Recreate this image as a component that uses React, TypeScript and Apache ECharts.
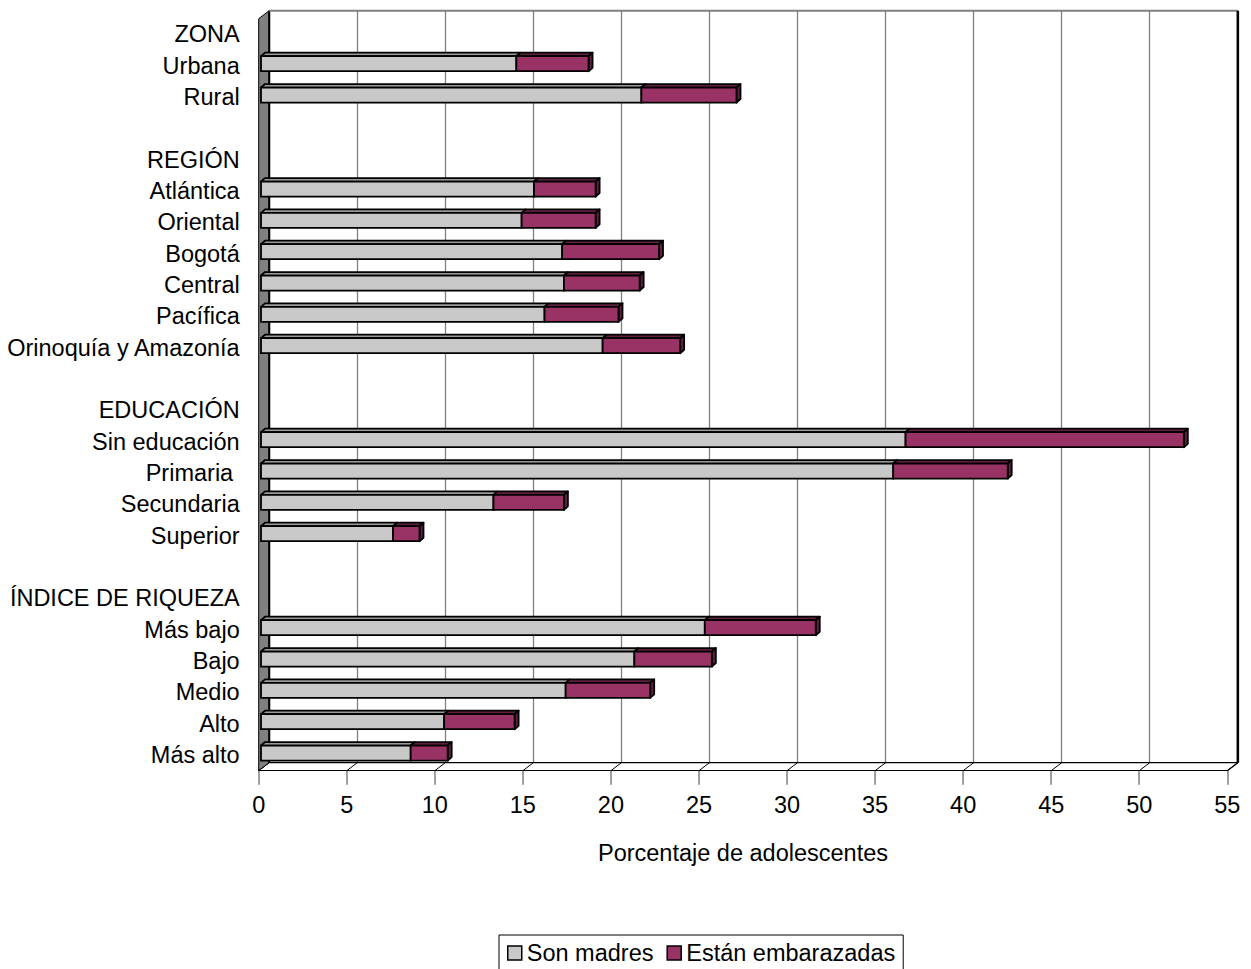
import React, { useEffect, useRef } from "react";
import * as echarts from "echarts";

// ---------- data ----------
const categories = [
  "ZONA", "Urbana", "Rural", "",
  "REGIÓN", "Atlántica", "Oriental", "Bogotá", "Central", "Pacífica", "Orinoquía y Amazonía", "",
  "EDUCACIÓN", "Sin educación", "Primaria ", "Secundaria", "Superior", "",
  "ÍNDICE DE RIQUEZA", "Más bajo", "Bajo", "Medio", "Alto", "Más alto",
];
const sonMadres: (number | null)[] = [
  null, 14.5, 21.6, null,
  null, 15.5, 14.8, 17.1, 17.2, 16.1, 19.4, null,
  null, 36.6, 35.9, 13.2, 7.5, null,
  null, 25.2, 21.2, 17.3, 10.4, 8.5,
];
const estanEmbarazadas: (number | null)[] = [
  null, 4.1, 5.4, null,
  null, 3.5, 4.2, 5.5, 4.3, 4.2, 4.4, null,
  null, 15.8, 6.5, 4.0, 1.5, null,
  null, 6.3, 4.4, 4.8, 4.0, 2.1,
];
const seriesNames = ["Son madres", "Están embarazadas"];
const axisTitle = "Porcentaje de adolescentes";
const xMin = 0;
const xMax = 55;
const xInterval = 5;

// ---------- style ----------
const FONT = "'Liberation Sans', Arial, sans-serif";
const FS = 23.5;
const GREY = "#C8C8C8";
const GREY_TOP = "#9A9A9A";
const PLUM = "#993366";
const PLUM_DARK = "#5E1F40";
const LW = 1.8;

const FRONT = { left: 258.7, top: 18.7, width: 968.6, height: 752 };
const DX = 10.5;
const DY = -8;
const BAR_SHIFT = 2.3;
const BAR_TOP = -9.5;
const BAR_H = 15;
const BDX = 4;
const BDY = -3.5;

export default function App() {
  const ref = useRef<HTMLDivElement>(null);

  useEffect(() => {
    const chart = echarts.init(ref.current!, null, { renderer: "svg" });

    const rows = categories
      .map((_, i) => [i, sonMadres[i], estanEmbarazadas[i]])
      .filter((r) => r[1] != null);

    const renderSon = (_params: any, api: any) => {
      const row = api.value(0);
      const s = api.value(1);
      const p0 = api.coord([0, row]);
      const p1 = api.coord([s, row]);
      const x0 = p0[0] + BAR_SHIFT;
      const x1 = p1[0] + BAR_SHIFT;
      const yt = p0[1] + BAR_TOP;
      return {
        type: "group",
        children: [
          {
            type: "polygon",
            shape: { points: [[x0, yt], [x1, yt], [x1 + BDX, yt + BDY], [x0 + BDX, yt + BDY]] },
            style: { fill: GREY_TOP, stroke: "#000", lineWidth: LW, lineJoin: "round" },
          },
          {
            type: "rect",
            shape: { x: x0, y: yt, width: x1 - x0, height: BAR_H },
            style: { fill: GREY, stroke: "#000", lineWidth: LW },
          },
        ],
      };
    };

    const renderEmb = (_params: any, api: any) => {
      const row = api.value(0);
      const s = api.value(1);
      const e = api.value(2);
      const p0 = api.coord([0, row]);
      const p1 = api.coord([s, row]);
      const p2 = api.coord([s + e, row]);
      const x1 = p1[0] + BAR_SHIFT;
      const x2 = p2[0] + BAR_SHIFT;
      const yt = p0[1] + BAR_TOP;
      const yb = yt + BAR_H;
      return {
        type: "group",
        children: [
          {
            type: "polygon",
            shape: { points: [[x1, yt], [x2, yt], [x2 + BDX, yt + BDY], [x1 + BDX, yt + BDY]] },
            style: { fill: PLUM_DARK, stroke: "#000", lineWidth: LW, lineJoin: "round" },
          },
          {
            type: "polygon",
            shape: { points: [[x2, yt], [x2 + BDX, yt + BDY], [x2 + BDX, yb + BDY], [x2, yb]] },
            style: { fill: PLUM_DARK, stroke: "#000", lineWidth: LW, lineJoin: "round" },
          },
          {
            type: "rect",
            shape: { x: x1, y: yt, width: x2 - x1, height: BAR_H },
            style: { fill: PLUM, stroke: "#000", lineWidth: LW },
          },
        ],
      };
    };

    const fx0 = FRONT.left;
    const fx1 = FRONT.left + FRONT.width;
    const fyt = FRONT.top;
    const fyb = FRONT.top + FRONT.height;
    const bx0 = fx0 + DX;
    const bx1 = fx1 + DX;
    const byt = fyt + DY;
    const byb = fyb + DY;

    chart.setOption({
      animation: false,
      backgroundColor: "#fff",
      textStyle: { fontFamily: FONT },
      grid: [
        { ...FRONT, containLabel: false },
        { left: bx0, top: byt, width: FRONT.width, height: FRONT.height, containLabel: false },
      ],
      xAxis: [
        {
          type: "value",
          gridIndex: 0,
          min: xMin,
          max: xMax,
          interval: xInterval,
          name: axisTitle,
          nameLocation: "middle",
          nameGap: 70,
          nameTextStyle: { fontSize: FS, color: "#000", fontFamily: FONT },
          axisLine: { show: true, lineStyle: { color: "#000", width: 1.2 } },
          axisTick: { show: true, length: 14, lineStyle: { color: "#808080", width: 1.5 } },
          axisLabel: { fontSize: FS, color: "#000", margin: 22, fontFamily: FONT },
          splitLine: { show: false },
        },
        {
          type: "value",
          gridIndex: 1,
          min: xMin,
          max: xMax,
          interval: xInterval,
          axisLine: { show: false },
          axisTick: { show: false },
          axisLabel: { show: false },
          splitLine: { show: true, lineStyle: { color: "#808080", width: 1.3 } },
        },
      ],
      yAxis: [
        {
          type: "category",
          gridIndex: 0,
          inverse: true,
          data: categories,
          axisLine: { show: false },
          axisTick: { show: false },
          axisLabel: { fontSize: FS, color: "#000", margin: 19, fontFamily: FONT, interval: 0 },
          splitLine: { show: false },
        },
        {
          type: "category",
          gridIndex: 1,
          inverse: true,
          data: categories,
          show: false,
        },
      ],
      legend: {
        left: 499,
        top: 935,
        orient: "horizontal",
        padding: [6, 8, 6, 8],
        itemGap: 13,
        itemWidth: 14,
        itemHeight: 14,
        borderColor: "#000",
        borderWidth: 1,
        textStyle: { fontSize: FS, color: "#000", fontFamily: FONT },
        data: [
          { name: seriesNames[0], icon: "rect", itemStyle: { color: GREY, borderColor: "#000", borderWidth: 1.5 } },
          { name: seriesNames[1], icon: "rect", itemStyle: { color: PLUM, borderColor: "#000", borderWidth: 1.5 } },
        ],
      },
      graphic: [
        {
          type: "polygon",
          z: 1,
          shape: { points: [[fx0, fyt], [bx0, byt], [bx0, byb], [fx0, fyb]] },
          style: { fill: "#808080", stroke: "#000", lineWidth: 1 },
        },
        { type: "line", z: 1, shape: { x1: bx0, y1: byt, x2: bx0, y2: byb }, style: { stroke: "#000", lineWidth: 2 } },
        { type: "line", z: 1, shape: { x1: bx0, y1: byt, x2: bx1, y2: byt }, style: { stroke: "#808080", lineWidth: 2 } },
        { type: "line", z: 1, shape: { x1: bx1, y1: byt, x2: bx1, y2: byb }, style: { stroke: "#000", lineWidth: 2.5 } },
        { type: "line", z: 1, shape: { x1: bx0, y1: byb, x2: bx1, y2: byb }, style: { stroke: "#000", lineWidth: 1.2 } },
        { type: "line", z: 1, shape: { x1: fx1, y1: fyb, x2: bx1, y2: byb }, style: { stroke: "#000", lineWidth: 1.2 } },
      ],
      series: [
        {
          type: "custom",
          name: seriesNames[0],
          xAxisIndex: 0,
          yAxisIndex: 0,
          z: 5,
          itemStyle: { color: GREY },
          encode: { x: [1, 2], y: 0 },
          data: rows,
          renderItem: renderSon,
        },
        {
          type: "custom",
          name: seriesNames[1],
          xAxisIndex: 0,
          yAxisIndex: 0,
          z: 6,
          itemStyle: { color: PLUM },
          encode: { x: [1, 2], y: 0 },
          data: rows,
          renderItem: renderEmb,
        },
      ],
    });

    // slanted floor ticks, placed through the axis scale
    const ticks: any[] = [];
    for (let v = xMin; v <= xMax; v += xInterval) {
      const px = chart.convertToPixel({ xAxisIndex: 0 }, v) as number;
      ticks.push({
        type: "line",
        z: 1,
        shape: { x1: px, y1: fyb, x2: px + DX, y2: byb },
        style: { stroke: "#000", lineWidth: 1 },
      });
    }
    const opt: any = chart.getOption();
    chart.setOption({ graphic: [...(opt.graphic?.[0]?.elements || []).map(() => ({})), ...ticks] });

    return () => chart.dispose();
  }, []);

  return (
    <div
      ref={ref}
      style={{ position: "absolute", left: 0, top: 0, width: 1251, height: 969 }}
    />
  );
}
